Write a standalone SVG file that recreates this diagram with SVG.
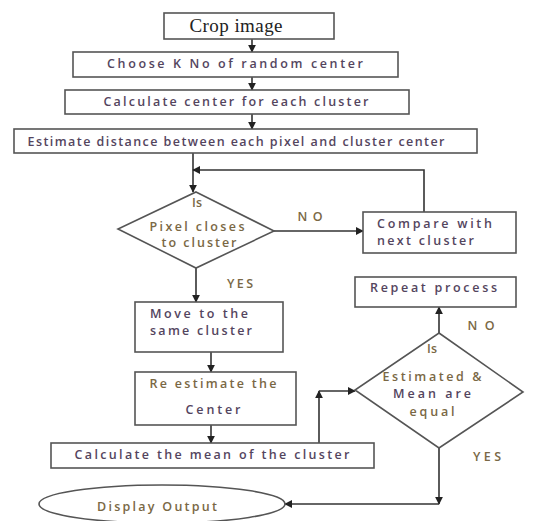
<svg xmlns="http://www.w3.org/2000/svg" width="536" height="521" viewBox="0 0 536 521">
<defs>
<marker id="ah" viewBox="0 0 10 10" refX="9" refY="5" markerWidth="8" markerHeight="8" markerUnits="userSpaceOnUse" orient="auto">
<path d="M0,0 L10,5 L0,10 z" fill="#222"/>
</marker>
</defs>
<style>
.box{fill:#fff;stroke:#555;stroke-width:1.6}
.ln{fill:none;stroke:#333;stroke-width:1.6}
.t{font-family:"Open Sans","Liberation Sans",sans-serif;font-size:12.5px;font-weight:600;fill:#54455e;text-anchor:middle}
.tl{font-family:"Open Sans","Liberation Sans",sans-serif;font-size:12.5px;font-weight:600;fill:#54455e}
.d{font-family:"Open Sans","Liberation Sans",sans-serif;font-size:12.5px;font-weight:600;fill:#7a6845;text-anchor:middle}
</style>
<rect width="536" height="521" fill="#fff"/>
<g id="connectors">
<path class="ln" d="M252,39 V52" marker-end="url(#ah)"/>
<path class="ln" d="M252,77 V90" marker-end="url(#ah)"/>
<path class="ln" d="M252,114 V129" marker-end="url(#ah)"/>
<path class="ln" d="M193,153 V192" marker-end="url(#ah)"/>
<path class="ln" d="M424,212 V170 H193" marker-end="url(#ah)"/>
<path class="ln" d="M274,231 H363" marker-end="url(#ah)"/>
<path class="ln" d="M196,268 V302" marker-end="url(#ah)"/>
<path class="ln" d="M211,352 V372" marker-end="url(#ah)"/>
<path class="ln" d="M211,425 V443" marker-end="url(#ah)"/>
<path class="ln" d="M319,443 V391" marker-end="url(#ah)"/>
<path class="ln" d="M319,391 H355" marker-end="url(#ah)"/>
<path class="ln" d="M439,333 V307" marker-end="url(#ah)"/>
<path class="ln" d="M439,448 V504" marker-end="url(#ah)"/>
<path class="ln" d="M439,504 H285" marker-end="url(#ah)"/>
<text class="d" x="310" y="221" textLength="25">NO</text>
<text class="d" x="240" y="288" textLength="26">YES</text>
<text class="d" x="481" y="330" textLength="27">NO</text>
<text class="d" x="487" y="461" textLength="28">YES</text>
</g>
<g id="crop">
<rect class="box" x="164" y="13" width="170" height="26"/>
<text x="236" y="32" font-family="'Liberation Serif',serif" font-size="19" fill="#222" text-anchor="middle" textLength="93">Crop image</text>
</g>
<g id="choose">
<rect class="box" x="73" y="52" width="325" height="25"/>
<text class="t" x="235" y="68" textLength="256">Choose K No of random center</text>
</g>
<g id="calc-center">
<rect class="box" x="65" y="90" width="344" height="24"/>
<text class="t" x="236" y="106" textLength="265">Calculate center for each cluster</text>
</g>
<g id="estimate">
<rect class="box" x="14" y="129" width="463" height="24"/>
<text class="t" x="236" y="146" font-size="11.5" textLength="417">Estimate  distance  between each pixel and  cluster center</text>
</g>
<g id="decision1">
<polygon class="box" points="196,192 274,231 196,268 118,229"/>
<text class="d" x="197" y="207" textLength="10">Is</text>
<text class="d" x="197" y="231" font-size="11.5" textLength="95">Pixel closes</text>
<text class="d" x="199" y="246.5" font-size="11.5" textLength="75">to cluster</text>
</g>
<g id="compare">
<rect class="box" x="363" y="212" width="153" height="41"/>
<text class="tl" x="377" y="228" textLength="115">Compare with</text>
<text class="tl" x="377" y="245" textLength="97">next cluster</text>
</g>
<g id="move">
<rect class="box" x="135" y="302" width="148" height="50"/>
<text class="tl" x="150" y="318" textLength="98">Move to the</text>
<text class="tl" x="150" y="335" textLength="102">same cluster</text>
</g>
<g id="reestimate">
<rect class="box" x="135" y="372" width="161" height="53"/>
<text class="d" x="213" y="388" textLength="127">Re estimate the</text>
<text class="t" x="213" y="414" textLength="55">Center</text>
</g>
<g id="calc-mean">
<rect class="box" x="51" y="443" width="323" height="25"/>
<text class="t" x="212" y="459" textLength="275">Calculate the mean of the cluster</text>
</g>
<g id="repeat">
<rect class="box" x="355" y="277" width="161" height="30"/>
<text class="tl" x="370" y="292" textLength="127">Repeat process</text>
</g>
<g id="decision2">
<polygon class="box" points="439,333 523,392 439,448 355,390"/>
<text class="d" x="432" y="353" textLength="10">Is</text>
<text class="d" x="432" y="381" textLength="99">Estimated &amp;</text>
<text class="t" x="432" y="398" textLength="78">Mean are</text>
<text class="d" x="432" y="416" textLength="45">equal</text>
</g>
<g id="display">
<ellipse class="box" cx="162" cy="504" rx="123" ry="19"/>
<text class="d" x="157" y="511" textLength="120">Display Output</text>
</g>
</svg>
